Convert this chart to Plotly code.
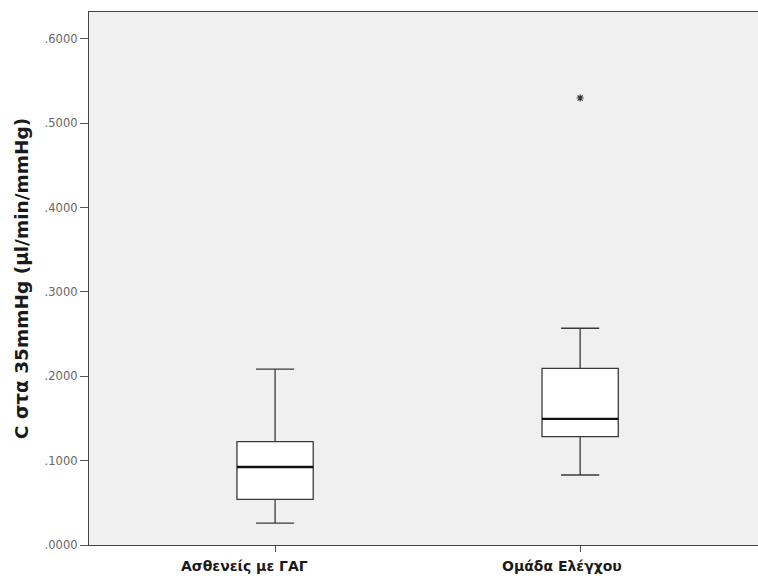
import plotly.graph_objects as go

categories = ["Ασθενείς με ΓΑΓ", "Ομάδα Ελέγχου"]
lower_whisker = [0.026, 0.083]
q1_values = [0.054, 0.1285]
medians = [0.0925, 0.1495]
q3_values = [0.1225, 0.2095]
upper_whisker = [0.2085, 0.257]
outlier_x = [1]
outlier_y = [0.530]
ytick_vals = [0.0, 0.1, 0.2, 0.3, 0.4, 0.5, 0.6]
ytick_text = [".0000", ".1000", ".2000", ".3000", ".4000", ".5000", ".6000"]
y_title = "C στα 35mmHg (μl/min/mmHg)"

# styling: horizontal pixel offsets of the category labels relative to their ticks
LABEL_XSHIFT = [-31, -18]

positions = list(range(len(categories)))
box_width = 0.25
FONT = "DejaVu Sans, sans-serif"

fig = go.Figure()
fig.add_trace(go.Box(
    x=positions,
    q1=q1_values, median=medians, q3=q3_values,
    lowerfence=lower_whisker, upperfence=upper_whisker,
    width=box_width, whiskerwidth=0.5,
    fillcolor="white",
    line=dict(color="#3a3a3a", width=1.3),
    boxpoints=False, hoverinfo="skip", showlegend=False,
))
# thicker median lines
for i, m in zip(positions, medians):
    fig.add_trace(go.Scatter(
        x=[i - box_width / 2, i + box_width / 2], y=[m, m],
        mode="lines", line=dict(color="#111111", width=2.4),
        hoverinfo="skip", showlegend=False,
    ))
fig.add_trace(go.Scatter(
    x=outlier_x, y=outlier_y, mode="markers",
    marker=dict(symbol="asterisk-open", size=6, color="#333333",
                line=dict(color="#333333", width=1.2)),
    hoverinfo="skip", showlegend=False,
))

for i, (cat, dx) in enumerate(zip(categories, LABEL_XSHIFT)):
    fig.add_annotation(
        x=i, y=0, xref="x", yref="paper", text=cat, showarrow=False,
        xanchor="center", yanchor="middle", xshift=dx, yshift=-21,
        font=dict(size=14, color="#1a1a1a", family=FONT, weight="bold"),
    )

fig.update_layout(
    width=758, height=586,
    margin=dict(l=89, r=0, t=12, b=41),
    paper_bgcolor="white", plot_bgcolor="#f0f0f0",
    font=dict(family=FONT),
    xaxis=dict(
        range=[-0.61, 1.583], tickvals=positions, ticktext=["" for _ in categories],
        showgrid=False, zeroline=False, automargin=False,
        showline=True, linecolor="#444444", linewidth=1.3, mirror=True,
        ticks="outside", ticklen=6, tickcolor="#555555", tickwidth=1,
    ),
    yaxis=dict(
        range=[0, 0.632], tickvals=ytick_vals, ticktext=ytick_text,
        showgrid=False, zeroline=False, automargin=False,
        showline=True, linecolor="#444444", linewidth=1.3,
        ticks="outside", ticklen=8, tickcolor="#555555", tickwidth=1,
        tickfont=dict(size=11.5, color="#666666", family=FONT),
        title=dict(text=y_title, standoff=11,
                   font=dict(size=18.5, color="#1a1a1a", family=FONT, weight="bold")),
    ),
)

fig.write_html("out.html", config={"displayModeBar": False},
               post_script="document.body.style.margin='0';")
